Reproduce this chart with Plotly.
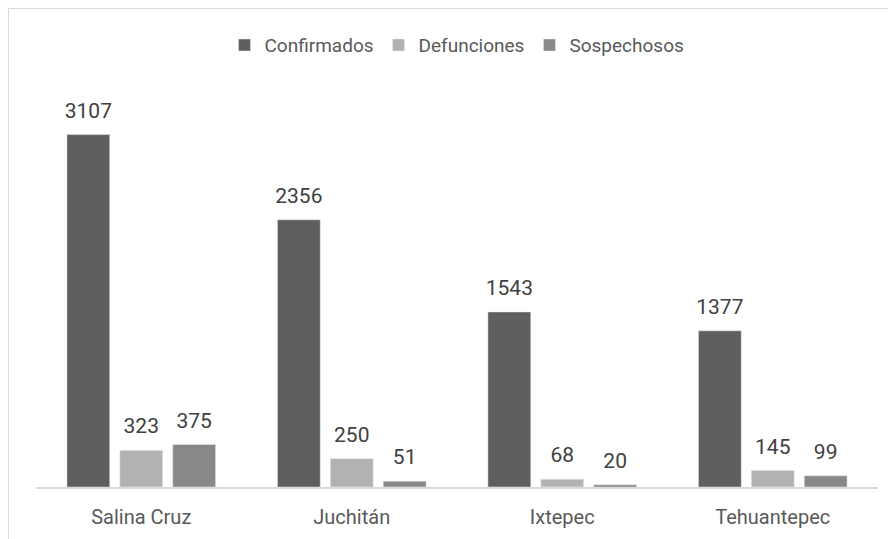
"""Casos por municipio: confirmados, defunciones y sospechosos."""

import plotly.graph_objects as go

municipios = ["Salina Cruz", "Juchitán", "Ixtepec", "Tehuantepec"]
confirmados = [3107, 2356, 1543, 1377]
defunciones = [323, 250, 68, 145]
sospechosos = [375, 51, 20, 99]

series = [
    ("Confirmados", confirmados, "#5f5f5f"),
    ("Defunciones", defunciones, "#b2b2b2"),
    ("Sospechosos", sospechosos, "#888888"),
]

FONT = "Roboto, Arial, sans-serif"

fig = go.Figure()
for i, (name, values, color) in enumerate(series):
    fig.add_bar(
        name=name,
        x=municipios,
        y=values,
        marker_color=color,
        offsetgroup=str(i),
    )
    # etiquetas de datos, separadas de la barra como en Excel
    fig.add_scatter(
        x=municipios,
        y=values,
        mode="markers+text",
        text=values,
        textposition="top center",
        textfont=dict(size=21, color="#404040", family=FONT),
        marker=dict(size=17, opacity=0),
        offsetgroup=str(i),
        orientation="v",
        showlegend=False,
        hoverinfo="skip",
        cliponaxis=False,
    )

# marco gris del gráfico
fig.add_shape(
    type="rect",
    xref="paper",
    yref="paper",
    x0=-0.0327,
    x1=1.2,
    y0=-0.3,
    y1=1.2053,
    line=dict(color="#d9d9d9", width=1),
    fillcolor="rgba(0,0,0,0)",
    layer="below",
)

fig.update_layout(
    width=896,
    height=539,
    margin=dict(l=28, r=26, t=82, b=60),
    paper_bgcolor="white",
    plot_bgcolor="white",
    barmode="group",
    bargap=0.246,
    bargroupgap=0.19,
    scattermode="group",
    scattergap=0.246,
    font=dict(family=FONT, size=19, color="#595959"),
    legend=dict(
        orientation="h",
        x=0.5,
        xanchor="center",
        y=1.113,
        yanchor="middle",
        font=dict(size=19, color="#595959"),
    ),
    xaxis=dict(
        showline=True,
        linecolor="#d9d9d9",
        linewidth=2,
        ticks="",
        ticklabelstandoff=11,
        tickfont=dict(size=20, color="#595959"),
    ),
    yaxis=dict(
        range=[0, 3500],
        visible=False,
        showgrid=False,
        zeroline=False,
    ),
)

fig.write_html("out.html")
